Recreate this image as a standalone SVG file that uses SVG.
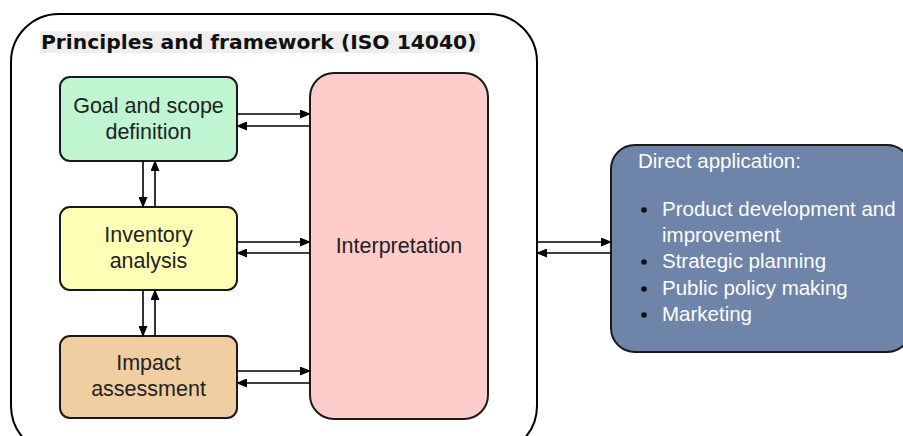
<svg xmlns="http://www.w3.org/2000/svg" width="903" height="436" viewBox="0 0 903 436">
<defs>
<marker id="ah" markerWidth="11" markerHeight="9" refX="10" refY="4.5" orient="auto" markerUnits="userSpaceOnUse">
<path d="M0,0 L11,4.5 L0,9 Z" fill="#000"/>
</marker>
<style>
.box{stroke:#1a1a1a;stroke-width:2}
.lbl{font-family:"Liberation Sans",Arial,sans-serif;font-size:21.5px;fill:#222;text-anchor:middle}
.wl{font-family:"Liberation Sans",Arial,sans-serif;font-size:20.5px;fill:#fff}
.conn line{stroke:#000;stroke-width:1.6;fill:none}
</style>
</defs>
<rect width="903" height="436" fill="#fff"/>
<g id="container">
<rect x="11" y="14" width="526" height="440" rx="48" fill="#fff" stroke="#000" stroke-width="2"/>
<rect x="40" y="31" width="440" height="22" fill="#eeeeee"/>
<text x="41" y="49" font-family="DejaVu Sans,Verdana,sans-serif" font-weight="bold" font-size="20.3" fill="#111">Principles and framework (ISO 14040)</text>
</g>
<g id="goal">
<rect class="box" x="60" y="77" width="177" height="84" rx="10" fill="#c0f5d2"/>
<text class="lbl" x="148.5" y="113">Goal and scope</text>
<text class="lbl" x="148.5" y="139">definition</text>
</g>
<g id="inventory">
<rect class="box" x="60" y="207" width="177" height="83" rx="10" fill="#ffffb5"/>
<text class="lbl" x="148.5" y="242">Inventory</text>
<text class="lbl" x="148.5" y="268">analysis</text>
</g>
<g id="impact">
<rect class="box" x="60" y="336" width="177" height="82" rx="10" fill="#f0cea2"/>
<text class="lbl" x="148.5" y="370">Impact</text>
<text class="lbl" x="148.5" y="396">assessment</text>
</g>
<g id="interpretation">
<rect class="box" x="310" y="73" width="178" height="346" rx="24" fill="#ffcccc"/>
<text class="lbl" x="399" y="253">Interpretation</text>
</g>
<g id="direct">
<rect class="box" x="611" y="145" width="300" height="207" rx="24" fill="#6e84a8"/>
<text class="wl" x="638" y="168">Direct application:</text>
<circle cx="644" cy="210" r="2.8" fill="#111"/>
<circle cx="644" cy="262" r="2.8" fill="#111"/>
<circle cx="644" cy="289" r="2.8" fill="#111"/>
<circle cx="644" cy="315" r="2.8" fill="#111"/>
<text class="wl" x="662" y="216">Product development and</text>
<text class="wl" x="662" y="242">improvement</text>
<text class="wl" x="662" y="268">Strategic planning</text>
<text class="wl" x="662" y="295">Public policy making</text>
<text class="wl" x="662" y="321">Marketing</text>
</g>
<g id="connectors" class="conn">
<line x1="237" y1="114" x2="310" y2="114" marker-end="url(#ah)"/>
<line x1="310" y1="126" x2="237" y2="126" marker-end="url(#ah)"/>
<line x1="237" y1="242" x2="310" y2="242" marker-end="url(#ah)"/>
<line x1="310" y1="253" x2="237" y2="253" marker-end="url(#ah)"/>
<line x1="237" y1="371" x2="310" y2="371" marker-end="url(#ah)"/>
<line x1="310" y1="383" x2="237" y2="383" marker-end="url(#ah)"/>
<line x1="143" y1="161" x2="143" y2="207" marker-end="url(#ah)"/>
<line x1="155" y1="207" x2="155" y2="161" marker-end="url(#ah)"/>
<line x1="143" y1="290" x2="143" y2="336" marker-end="url(#ah)"/>
<line x1="155" y1="336" x2="155" y2="290" marker-end="url(#ah)"/>
<line x1="537" y1="242" x2="611" y2="242" marker-end="url(#ah)"/>
<line x1="611" y1="253" x2="537" y2="253" marker-end="url(#ah)"/>
</g>
</svg>
